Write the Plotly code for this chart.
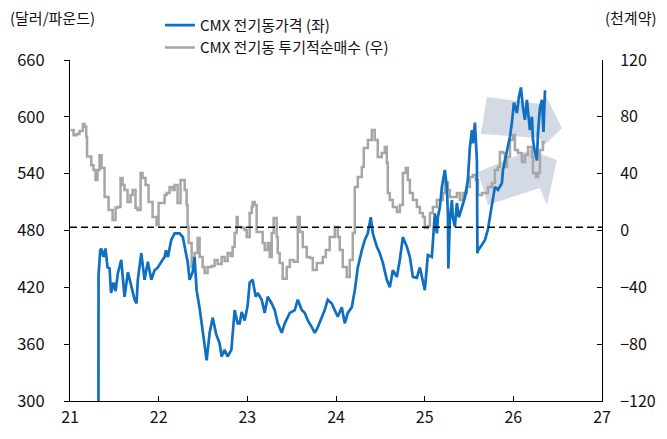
import plotly.graph_objects as go

# CMX copper price (USD/lb), left axis; x in decimal years (21 = 2021)
blue_x = [21.318, 21.322, 21.341, 21.352, 21.378, 21.40, 21.423, 21.446, 21.463, 21.491, 21.514, 21.54, 21.578, 21.604, 21.615, 21.653, 21.691, 21.728, 21.75, 21.765, 21.804, 21.841, 21.878, 21.917, 21.954, 21.991, 22.03, 22.067, 22.082, 22.104, 22.142, 22.18, 22.236, 22.273, 22.312, 22.327, 22.349, 22.383, 22.405, 22.428, 22.462, 22.485, 22.519, 22.541, 22.575, 22.609, 22.65, 22.687, 22.71, 22.744, 22.778, 22.82, 22.857, 22.891, 22.914, 22.936, 22.97, 23.004, 23.026, 23.06, 23.094, 23.117, 23.162, 23.196, 23.23, 23.275, 23.309, 23.343, 23.388, 23.422, 23.479, 23.535, 23.569, 23.614, 23.648, 23.682, 23.727, 23.761, 23.795, 23.839, 23.873, 23.907, 23.952, 23.986, 24.02, 24.065, 24.099, 24.133, 24.178, 24.212, 24.246, 24.291, 24.325, 24.359, 24.392, 24.415, 24.46, 24.494, 24.528, 24.573, 24.607, 24.641, 24.686, 24.72, 24.754, 24.799, 24.833, 24.867, 24.912, 24.946, 24.98, 25.002, 25.036, 25.081, 25.115, 25.138, 25.149, 25.172, 25.194, 25.228, 25.25, 25.262, 25.267, 25.284, 25.307, 25.318, 25.341, 25.363, 25.386, 25.42, 25.454, 25.487, 25.51, 25.533, 25.544, 25.567, 25.589, 25.595, 25.601, 25.646, 25.68, 25.713, 25.748, 25.77, 25.792, 25.826, 25.871, 25.883, 25.905, 25.928, 25.962, 25.984, 26.007, 26.041, 26.063, 26.086, 26.108, 26.131, 26.153, 26.17, 26.187, 26.21, 26.221, 26.244, 26.266, 26.278, 26.30, 26.323, 26.334, 26.34, 26.357]
blue_y = [0, 433, 459, 461, 452, 461, 441, 440, 414, 425, 416, 435, 449, 426, 410, 436, 422, 407, 403, 428, 456, 428, 447, 428, 438, 441, 447, 452, 459, 452, 470, 477, 477, 473, 454, 447, 428, 436, 452, 417, 398, 383, 361, 343, 372, 388, 370, 361, 347, 354, 347, 354, 396, 382, 382, 394, 385, 401, 425, 428, 410, 414, 407, 393, 410, 403, 396, 382, 372, 382, 393, 396, 407, 396, 393, 385, 378, 372, 378, 389, 396, 407, 403, 396, 389, 399, 382, 393, 399, 417, 441, 459, 470, 477, 494, 477, 463, 456, 446, 428, 420, 438, 431, 449, 473, 463, 452, 431, 430, 441, 428, 417, 454, 452, 498, 477, 494, 505, 526, 544, 526, 498, 440, 491, 512, 494, 484, 509, 494, 505, 515, 533, 568, 586, 572, 594, 554, 456, 459, 465, 470, 481, 500, 512, 526, 523, 530, 544, 554, 565, 579, 594, 615, 604, 621, 631, 610, 597, 618, 602, 586, 600, 576, 562, 554, 583, 610, 618, 597, 584, 628]

# CMX copper speculative net long (thousand contracts), right axis
gray_x = [21.006, 21.04, 21.073, 21.107, 21.145, 21.164, 21.183, 21.192, 21.24, 21.265, 21.288, 21.31, 21.333, 21.356, 21.39, 21.435, 21.48, 21.514, 21.536, 21.57, 21.593, 21.615, 21.649, 21.683, 21.706, 21.739, 21.762, 21.796, 21.818, 21.852, 21.886, 21.931, 21.976, 21.999, 22.044, 22.067, 22.089, 22.123, 22.157, 22.18, 22.213, 22.247, 22.27, 22.293, 22.315, 22.326, 22.338, 22.372, 22.405, 22.439, 22.462, 22.496, 22.518, 22.552, 22.597, 22.631, 22.665, 22.71, 22.744, 22.778, 22.812, 22.834, 22.857, 22.88, 22.891, 22.936, 22.97, 22.993, 23.026, 23.049, 23.06, 23.083, 23.105, 23.139, 23.173, 23.196, 23.23, 23.252, 23.275, 23.297, 23.331, 23.343, 23.365, 23.399, 23.444, 23.479, 23.524, 23.569, 23.591, 23.625, 23.67, 23.704, 23.738, 23.783, 23.817, 23.851, 23.885, 23.929, 23.986, 24.02, 24.042, 24.076, 24.121, 24.155, 24.189, 24.212, 24.246, 24.291, 24.313, 24.359, 24.404, 24.437, 24.471, 24.516, 24.55, 24.573, 24.584, 24.607, 24.641, 24.686, 24.72, 24.754, 24.787, 24.81, 24.833, 24.867, 24.912, 24.946, 24.98, 25.002, 25.036, 25.059, 25.092, 25.138, 25.172, 25.205, 25.228, 25.262, 25.284, 25.318, 25.363, 25.397, 25.431, 25.476, 25.51, 25.544, 25.578, 25.601, 25.646, 25.68, 25.713, 25.759, 25.792, 25.826, 25.849, 25.883, 25.905, 25.928, 25.962, 25.996, 26.018, 26.052, 26.097, 26.131, 26.165, 26.21, 26.221, 26.255, 26.278, 26.30, 26.334, 26.357]
gray_y = [70.7, 67, 68, 70, 75, 73, 66, 52, 46, 42.6, 35.5, 42.6, 53, 44, 23.6, 14.4, 7.4, 16, 16.5, 37, 32, 28.5, 20, 25, 28.5, 16, 14.4, 40.5, 37, 32, 20, 9.5, 3.9, 19.4, 19.4, 25, 26.4, 30.6, 28.5, 32, 19.4, 35.5, 35.5, 28.5, 18, 2.5, -8.8, -25.7, -15.8, -5.3, -18.6, -25.7, -29.9, -25.7, -25, -20.7, -23.5, -18.6, -21.4, -15.8, -18, -11.6, -1.8, 9.5, 2.5, 1.8, 0.4, -4.6, 12.3, 16.5, 20, 18, -1, -1, -8.8, -13.7, -8.8, -18.6, -1.8, 8.8, -4.6, -15.8, -22.9, -34, -25.7, -20.7, -22, 9.5, -1, -11.6, -18.6, -19.3, -27.8, -22.9, -22.9, -18.6, -13.7, -4.6, 2.5, -4.6, -13.7, -25.7, -32.7, -20.7, -1.8, 30.6, 37.7, 44.7, 58, 63.7, 70.7, 63.7, 51.7, 54.5, 58.8, 47.5, 26.4, 21.5, 16.5, 13, 18, 40.5, 44, 35.5, 26.4, 21.5, 16.5, 12.3, 9.5, 1.8, 3.2, 12.3, 16.5, 21.5, 21.5, 26.4, 34, 28.5, 23.6, 23.6, 26.4, 21.5, 26.4, 30.6, 37.7, 39, 35.5, 25, 26.4, 26.4, 30.6, 33.4, 42.6, 44.7, 55.3, 54.5, 44.7, 51.7, 63.7, 67.2, 56.7, 54.5, 48.2, 53.1, 58.8, 51.7, 40.5, 37.7, 40.5, 56.7, 62.3, 62.3]

year_ticks = [21, 22, 23, 24, 25, 26, 27]
year_labels = ["21", "22", "23", "24", "25", "26", "27"]
dash_level = 483.5

assert len(blue_x) == len(blue_y), (len(blue_x), len(blue_y))
assert len(gray_x) == len(gray_y), (len(gray_x), len(gray_y))

FONT = "Noto Sans CJK KR"
BLUE = "#0f6fc0"
GRAY = "#a6a6a6"

fig = go.Figure()

# gray on primary y (right side), blue on overlay y2 (left side) so blue draws on top
fig.add_trace(go.Scatter(
    x=gray_x, y=gray_y, mode="lines", name="CMX 전기동 투기적순매수 (우)",
    line=dict(color=GRAY, width=2.5, shape="hv"), yaxis="y", legendrank=2,
))
fig.add_trace(go.Scatter(
    x=blue_x, y=blue_y, mode="lines", name="CMX 전기동가격 (좌)",
    line=dict(color=BLUE, width=2.7), yaxis="y2", legendrank=1,
))

# decorative arrows
arrow_fill = "rgba(200,209,222,0.8)"
fig.add_shape(type="path", xref="x", yref="y2", layer="below", line_width=0, fillcolor=arrow_fill,
              path="M25.702,621 L26.312,613.5 L26.368,622 L26.549,588 L26.323,568 L26.30,577.7 L25.634,582 Z")
fig.add_shape(type="path", xref="x", yref="y2", layer="below", line_width=0, fillcolor=arrow_fill,
              path="M25.60,541.8 L26.187,565 L26.492,554.4 L26.38,507 L26.30,524.9 L25.713,507 Z")

fig.add_shape(type="line", xref="x", yref="y2", x0=21, x1=27, y0=dash_level, y1=dash_level,
              line=dict(color="black", width=1.5, dash="7px,4px"))

fig.add_annotation(text="(달러/파운드)", xref="paper", yref="paper", x=-0.117, y=1.126,
                   xanchor="left", yanchor="middle", showarrow=False, font=dict(size=15))
fig.add_annotation(text="(천계약)", xref="paper", yref="paper", x=1.107, y=1.126,
                   xanchor="right", yanchor="middle", showarrow=False, font=dict(size=15))

# page body keeps an 8px margin, so the figure is sized to fit inside it
fig.update_layout(
    width=651, height=423,
    margin=dict(l=62, r=57, t=52, b=30, autoexpand=False),
    paper_bgcolor="white", plot_bgcolor="white",
    font=dict(family=FONT, size=15, color="#111"),
    showlegend=True,
    legend=dict(x=0.169, y=1.15, xanchor="left", yanchor="top", bgcolor="rgba(0,0,0,0)",
                font=dict(size=15), tracegroupgap=0),
    xaxis=dict(range=[21, 27], tickvals=year_ticks, ticktext=year_labels, showgrid=False,
               zeroline=False, showline=True, linecolor="black", linewidth=1,
               ticks="inside", ticklen=5, tickcolor="black", ticklabelstandoff=2,
               tickfont=dict(size=16)),
    yaxis=dict(range=[-120, 120], dtick=40, side="right", showgrid=False, zeroline=False,
               showline=True, linecolor="black", linewidth=1, ticks="inside", ticklen=5,
               tickcolor="black", ticklabelstandoff=14, tickfont=dict(size=16)),
    yaxis2=dict(range=[300, 660], dtick=60, side="left", overlaying="y", showgrid=False,
                zeroline=False, showline=True, linecolor="black", linewidth=1, ticks="outside",
                ticklen=5, tickcolor="black", ticklabelstandoff=16, tickfont=dict(size=16.5)),
)

fig.write_html("out.html")
